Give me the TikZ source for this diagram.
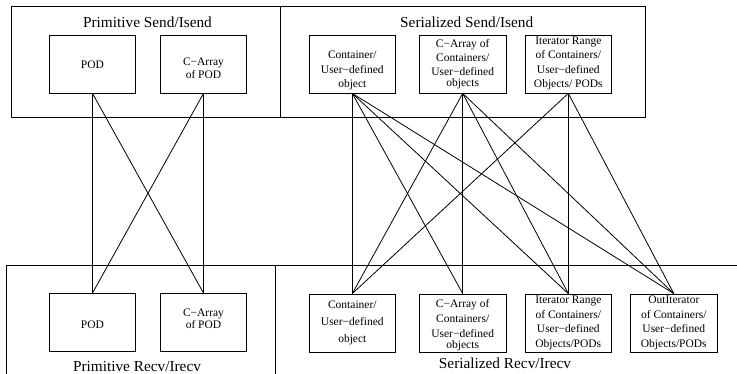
\documentclass[tikz,border=0pt]{standalone}
\usepackage{fontspec}
\setmainfont{Liberation Serif}
\begin{document}
\begin{tikzpicture}[x=1pt,y=-1pt,line width=0.8pt,
  typebox/.style={draw,minimum width=86.7pt,minimum height=58pt,inner sep=0pt},
  boxtext/.style={align=center,inner sep=0pt,font=\fontsize{11.5}{14.5}\selectfont},
  grouptitle/.style={inner sep=0pt,font=\fontsize{15.3}{18}\selectfont}]
\useasboundingbox (0,0) rectangle (737,374);
\clip (0,0) rectangle (737,374);

% sender groups
\draw (11,6) rectangle (280,117);
\draw (280,6) rectangle (645.7,117);
\node[grouptitle] (pst) at (147.5,22) {Primitive Send/Isend};
\node[grouptitle] (sst) at (466.7,22) {Serialized Send/Isend};

% receiver groups (running off the lower edge)
\draw (6,390) -- (6,265.5) -- (750,265.5);
\draw (275.5,265.5) -- (275.5,390);
\node[grouptitle] (prt) at (137,367) {Primitive Recv/Irecv};
\node[grouptitle] (srt) at (505,363) {Serialized Recv/Irecv};

% primitive senders
\node[typebox] (ps1) at (92.5,64) {};
\node[typebox] (ps2) at (203.5,64) {};
\node[boxtext] at (92.5,65) {POD};
\node[boxtext,font=\fontsize{11.5}{13.3}\selectfont] at (203.5,68) {C−Array\\of POD};

% serialized senders
\node[typebox] (ss1) at (352.3,64) {};
\node[typebox] (ss2) at (462.7,64) {};
\node[typebox] (ss3) at (568.3,64) {};
\node[boxtext] at (352.3,70.5) {Container/\\User−defined\\object};
\node[boxtext,font=\fontsize{11.5}{14.4}\selectfont] at (462.7,64) {C−Array of\\Containers/\\User−defined\\[-3.8pt]objects};
\node[boxtext] at (568.3,63.4) {Iterator Range\\of Containers/\\User−defined\\Objects/ PODs};

% primitive receivers
\node[typebox] (pr1) at (92.5,322.5) {};
\node[typebox] (pr2) at (203.5,322.5) {};
\node[boxtext] at (92.5,324.7) {POD};
\node[boxtext,font=\fontsize{11.5}{11.5}\selectfont] at (203.5,318.5) {C−Array\\of POD};

% serialized receivers
\node[typebox] (sr1) at (352.3,323) {};
\node[typebox] (sr2) at (462.7,323) {};
\node[typebox] (sr3) at (568.3,323) {};
\node[typebox] (sr4) at (673.8,323) {};
\node[boxtext,font=\fontsize{11.5}{17}\selectfont] at (352.3,322.5) {Container/\\User−defined\\object};
\node[boxtext,font=\fontsize{11.5}{15.2}\selectfont] at (462.7,325) {C−Array of\\Containers/\\User−defined\\[-5pt]objects};
\node[boxtext] at (568.3,323) {Iterator Range\\of Containers/\\User−defined\\Objects/PODs};
\node[boxtext] at (673.8,323) {OutIterator\\of Containers/\\User−defined\\Objects/PODs};

% primitive connections
\foreach \s/\r in {ps1/pr1,ps1/pr2,ps2/pr1,ps2/pr2}
  \draw (\s.south) -- (\r.north);

% serialized connections
\foreach \s/\r in {ss1/sr1,ss1/sr2,ss1/sr3,ss1/sr4,
                   ss2/sr1,ss2/sr2,ss2/sr3,ss2/sr4,
                   ss3/sr1,ss3/sr3,ss3/sr4}
  \draw (\s.south) -- (\r.north);
\end{tikzpicture}
\end{document}
